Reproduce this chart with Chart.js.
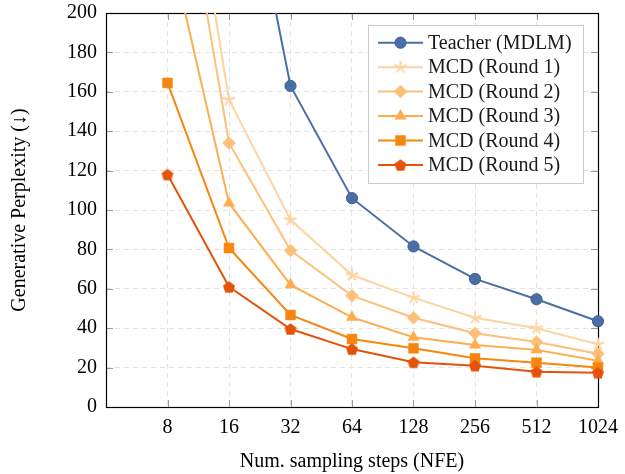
<!DOCTYPE html>
<html>
<head>
<meta charset="utf-8">
<script src="https://cdn.jsdelivr.net/npm/chart.js@4.4.0/dist/chart.umd.min.js"></script>
<style>
  html, body { margin: 0; padding: 0; background: #fff; }
  #wrap { width: 625px; height: 474px; position: relative; }
</style>
</head>
<body>
<div id="wrap"><canvas id="c" width="625" height="474"></canvas></div>
<script>
// ---- data ----
const steps = [8, 16, 32, 64, 128, 256, 512, 1024];
const teacher = [520, 320, 163, 106, 81.5, 65, 54.7, 43.5];
const round1 = [348, 156, 95, 67, 55.5, 45.3, 40, 31.8];
const round2 = [317, 134, 79.5, 56.5, 45.3, 37.4, 33, 27];
const round3 = [239, 103.5, 62, 45.5, 35.4, 31.5, 29, 23.5];
const round4 = [164.5, 80.7, 46.7, 34.5, 29.8, 24.7, 22.5, 20];
const round5 = [118, 61, 39.6, 29.4, 22.7, 21, 17.9, 17.4];
const seriesNames = ['Teacher (MDLM)', 'MCD (Round 1)', 'MCD (Round 2)', 'MCD (Round 3)', 'MCD (Round 4)', 'MCD (Round 5)'];
const xTickValues = [8, 16, 32, 64, 128, 256, 512, 1024];
const yTickValues = [0, 20, 40, 60, 80, 100, 120, 140, 160, 180, 200];

const FONT = '"Liberation Serif", "Times New Roman", serif';
const colors = ['#4a6fa6', '#fdd3a0', '#fdc07a', '#fdad4e', '#f7860f', '#e4530a'];

function makeStar(color) {
  const s = 16, c = document.createElement('canvas');
  c.width = s; c.height = s;
  const g = c.getContext('2d');
  g.strokeStyle = color; g.lineWidth = 2; g.lineCap = 'butt';
  const r = 6.5;
  g.beginPath();
  for (let i = 0; i < 5; i++) {
    const a = -Math.PI / 2 + i * 2 * Math.PI / 5;
    g.moveTo(s / 2, s / 2);
    g.lineTo(s / 2 + r * Math.cos(a), s / 2 + r * Math.sin(a));
  }
  g.stroke();
  return c;
}
function makePentagon(color) {
  const s = 16, c = document.createElement('canvas');
  c.width = s; c.height = s;
  const g = c.getContext('2d');
  g.fillStyle = color;
  const r = 6.3;
  g.beginPath();
  for (let i = 0; i < 5; i++) {
    const a = -Math.PI / 2 + i * 2 * Math.PI / 5;
    const px = s / 2 + r * Math.cos(a), py = s / 2 + 0.6 + r * Math.sin(a);
    if (i === 0) g.moveTo(px, py); else g.lineTo(px, py);
  }
  g.closePath(); g.fill();
  return c;
}

const starImg = makeStar(colors[1]);
const pentImg = makePentagon(colors[5]);

const pts = arr => steps.map((s, i) => ({ x: s, y: arr[i] }));
const allSeries = [teacher, round1, round2, round3, round4, round5];
const styles = [
  { pointStyle: 'circle', radius: 5.6, border: '#3d5f93' },
  { pointStyle: starImg, radius: 7, border: colors[1] },
  { pointStyle: 'rectRot', radius: 6.5, border: colors[2] },
  { pointStyle: 'triangle', radius: 6.5, border: colors[3] },
  { pointStyle: 'rect', radius: 7, border: colors[4] },
  { pointStyle: pentImg, radius: 7, border: colors[5] }
];

const datasets = allSeries.map((arr, i) => ({
  label: seriesNames[i],
  data: pts(arr),
  borderColor: colors[i],
  backgroundColor: colors[i],
  borderWidth: 2,
  pointStyle: styles[i].pointStyle,
  pointRadius: styles[i].radius,
  pointBackgroundColor: colors[i],
  pointBorderColor: styles[i].border,
  pointBorderWidth: i === 0 ? 1 : 0.5,
  tension: 0,
  order: 6 - i,
  clip: { left: 10, top: 0, right: 10, bottom: 10 }
}));

const framePlugin = {
  id: 'frame',
  beforeDatasetsDraw(chart) {
    const { ctx, chartArea: a, scales } = chart;
    ctx.save();
    ctx.strokeStyle = '#9a9a9a';
    ctx.lineWidth = 1;
    const tl = 7;
    ctx.beginPath();
    xTickValues.forEach(v => {
      const x = Math.round(scales.x.getPixelForValue(v)) + 0.5;
      ctx.moveTo(x, a.bottom); ctx.lineTo(x, a.bottom - tl);
      ctx.moveTo(x, a.top); ctx.lineTo(x, a.top + tl);
    });
    yTickValues.forEach(v => {
      const y = Math.round(scales.y.getPixelForValue(v)) + 0.5;
      ctx.moveTo(a.left, y); ctx.lineTo(a.left + tl, y);
      ctx.moveTo(a.right, y); ctx.lineTo(a.right - tl, y);
    });
    ctx.stroke();
    ctx.strokeStyle = '#000';
    ctx.lineWidth = 1.2;
    ctx.strokeRect(Math.round(a.left) + 0.5, Math.round(a.top) + 0.5,
      Math.round(a.right - a.left), Math.round(a.bottom - a.top));
    ctx.restore();
  }
};

function drawMarker(ctx, i, x, y) {
  const st = styles[i];
  ctx.save();
  ctx.fillStyle = colors[i];
  ctx.strokeStyle = st.border;
  ctx.lineWidth = i === 0 ? 1 : 0.5;
  const r = st.radius;
  if (st.pointStyle instanceof HTMLCanvasElement) {
    ctx.drawImage(st.pointStyle, x - st.pointStyle.width / 2, y - st.pointStyle.height / 2);
  } else if (st.pointStyle === 'circle') {
    ctx.beginPath(); ctx.arc(x, y, r, 0, Math.PI * 2); ctx.fill(); ctx.stroke();
  } else if (st.pointStyle === 'rect') {
    const s = r * Math.SQRT1_2;
    ctx.beginPath(); ctx.rect(x - s, y - s, 2 * s, 2 * s); ctx.fill(); ctx.stroke();
  } else if (st.pointStyle === 'rectRot') {
    ctx.beginPath(); ctx.moveTo(x, y - r); ctx.lineTo(x + r, y); ctx.lineTo(x, y + r); ctx.lineTo(x - r, y);
    ctx.closePath(); ctx.fill(); ctx.stroke();
  } else if (st.pointStyle === 'triangle') {
    ctx.beginPath();
    ctx.moveTo(x, y - r);
    ctx.lineTo(x + r * Math.sin(Math.PI / 3), y + r / 2);
    ctx.lineTo(x - r * Math.sin(Math.PI / 3), y + r / 2);
    ctx.closePath(); ctx.fill(); ctx.stroke();
  }
  ctx.restore();
}

const legendPlugin = {
  id: 'boxLegend',
  afterDraw(chart) {
    const ctx = chart.ctx;
    const bx = 368.5, by = 25.5, bw = 215, bh = 158;
    ctx.save();
    ctx.fillStyle = '#fff';
    ctx.fillRect(bx, by, bw, bh);
    ctx.strokeStyle = '#cccccc';
    ctx.lineWidth = 1;
    ctx.strokeRect(bx, by, bw, bh);
    ctx.font = '20px ' + FONT;
    ctx.textBaseline = 'middle';
    ctx.textAlign = 'left';
    seriesNames.forEach((name, i) => {
      const y = 42.7 + i * 24.45;
      ctx.strokeStyle = colors[i];
      ctx.lineWidth = 2;
      ctx.beginPath(); ctx.moveTo(378, y); ctx.lineTo(423, y); ctx.stroke();
      drawMarker(ctx, i, 400.5, y);
      ctx.fillStyle = '#1a1a1a';
      ctx.fillText(name, 428, y + 1);
    });
    ctx.restore();
  }
};

new Chart(document.getElementById('c'), {
  type: 'line',
  data: { datasets },
  options: {
    responsive: false,
    animation: false,
    events: [],
    layout: { padding: { top: 13, right: 27, left: 0, bottom: 0 } },
    plugins: { legend: { display: false }, tooltip: { enabled: false } },
    scales: {
      x: {
        type: 'logarithmic',
        min: 4, max: 1024,
        afterBuildTicks: axis => { axis.ticks = xTickValues.map(v => ({ value: v })); },
        afterFit: s => { s.height = 67; s.paddingLeft = 0; s.paddingRight = 0; },
        border: { display: false, dash: [5, 4] },
        grid: { color: '#e3e3e3', lineWidth: 1, drawTicks: false },
        ticks: {
          autoSkip: false, maxRotation: 0, padding: 9,
          color: '#000', font: { family: FONT, size: 20 },
          callback: v => String(v)
        },
        title: {
          display: true, text: 'Num. sampling steps (NFE)', color: '#000',
          font: { family: FONT, size: 20 }, padding: { top: 0, bottom: 0 }
        }
      },
      y: {
        type: 'linear',
        min: 0, max: 200,
        afterBuildTicks: axis => { axis.ticks = yTickValues.map(v => ({ value: v })); },
        afterFit: s => { s.width = 106; s.paddingTop = 0; s.paddingBottom = 0; },
        border: { display: false, dash: [5, 4] },
        grid: { color: '#e3e3e3', lineWidth: 1, drawTicks: false },
        ticks: {
          padding: 9, color: '#000', font: { family: FONT, size: 20 },
          callback: v => String(v)
        },
        title: {
          display: true, text: 'Generative Perplexity (↓)', color: '#000',
          font: { family: FONT, size: 20 }, padding: { top: 8, bottom: 0 }
        }
      }
    }
  },
  plugins: [framePlugin, legendPlugin]
});
</script>
</body>
</html>
